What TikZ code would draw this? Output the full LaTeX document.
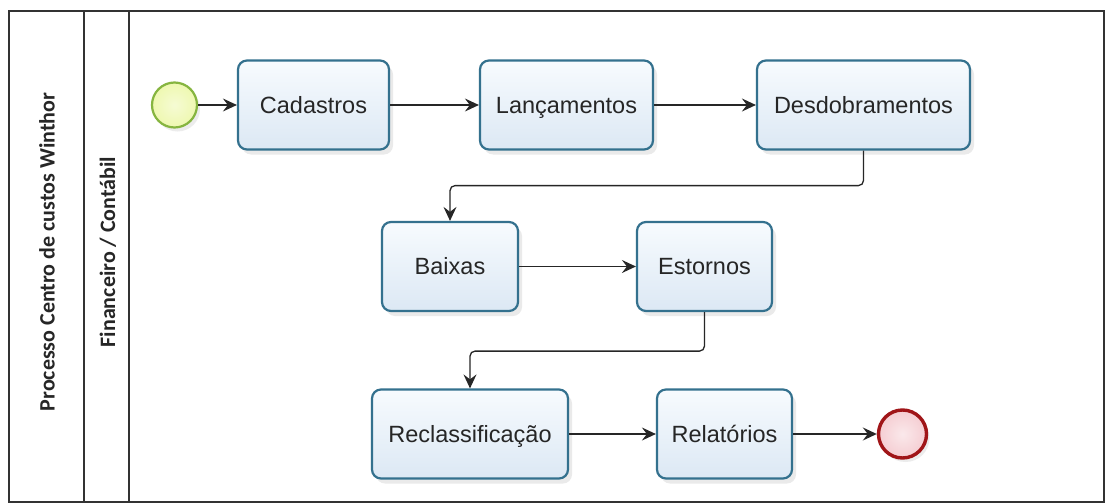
\documentclass[tikz,border=0pt]{standalone}
\usepackage{fontspec}
\setmainfont{Liberation Sans}
\newfontfamily\lanefont{Carlito}
\usetikzlibrary{arrows.meta,shadows}
\definecolor{boxline}{HTML}{34718E}
\definecolor{boxtop}{HTML}{F7FBFE}
\definecolor{boxbot}{HTML}{DCE8F4}
\definecolor{startline}{HTML}{86B540}
\definecolor{startfill}{HTML}{EEF8B0}
\definecolor{endline}{HTML}{A01518}
\definecolor{endfill}{HTML}{F5CDD2}
\definecolor{frameline}{HTML}{333333}
\tikzset{
  taskbox/.style={draw=boxline, line width=2.2pt, rounded corners=9pt,
    top color=boxtop, bottom color=boxbot, minimum height=89pt,
    font=\fontsize{23.5}{28}\selectfont, text=black!85,
    text height=16.8pt, text depth=0pt,
    drop shadow={opacity=0.16, shadow xshift=4pt, shadow yshift=-5pt}},
  startev/.style={circle, draw=startline, line width=2.2pt, inner color=startfill!55!white, outer color=startfill,
    minimum size=45pt, drop shadow={opacity=0.15, shadow xshift=3pt, shadow yshift=-4pt}},
  endev/.style={circle, draw=endline, line width=3.4pt, inner color=endfill!45!white, outer color=endfill,
    minimum size=48pt, drop shadow={opacity=0.15, shadow xshift=3pt, shadow yshift=-4pt}},
  flow/.style={draw=black!85, line width=1.3pt, -{Stealth[length=14pt,width=13pt,inset=5pt]}, rounded corners=5pt},
  lanetext/.style={rotate=90, font=\lanefont\bfseries\fontsize{22}{26}\selectfont, text=black!85}
}
\begin{document}
\begin{tikzpicture}[x=1pt,y=-1pt]
\useasboundingbox (0,0) rectangle (1105,503);
\fill[white] (0,0) rectangle (1105,503);
\draw[frameline, line width=1.4pt] (9,11) rectangle (1104,502);
\draw[frameline, line width=1.2pt] (84,11) -- (84,502);
\draw[frameline, line width=1.2pt] (129,11) -- (129,502);
\node[lanetext] (pool) at (47,252) {Processo Centro de custos Winthor};
\node[lanetext] (lane) at (108,252) {Financeiro / Contábil};

\node[startev] (s) at (174.5,105) {};
\node[taskbox, minimum width=151pt] (cad) at (313.5,105) {Cadastros};
\node[taskbox, minimum width=173pt] (lan) at (566.5,105) {Lançamentos};
\node[taskbox, minimum width=213pt] (des) at (863.5,105) {Desdobramentos};
\node[taskbox, minimum width=136pt] (bai) at (450,266.5) {Baixas};
\node[taskbox, minimum width=135pt] (est) at (704.5,266.5) {Estornos};
\node[taskbox, minimum width=196pt] (rec) at (470,434) {Reclassificação};
\node[taskbox, minimum width=135pt] (rel) at (724.5,434) {Relatórios};
\node[endev] (e) at (902.5,434) {};

\draw[flow] (s) -- (cad);
\draw[flow] (cad) -- (lan);
\draw[flow] (lan) -- (des);
\draw[flow] (des.south) -- ++(0,35) -| (bai.north);
\draw[flow] (bai) -- (est);
\draw[flow] (est.south) -- ++(0,39) -| (rec.north);
\draw[flow] (rec) -- (rel);
\draw[flow] (rel) -- (e);
\end{tikzpicture}
\end{document}
